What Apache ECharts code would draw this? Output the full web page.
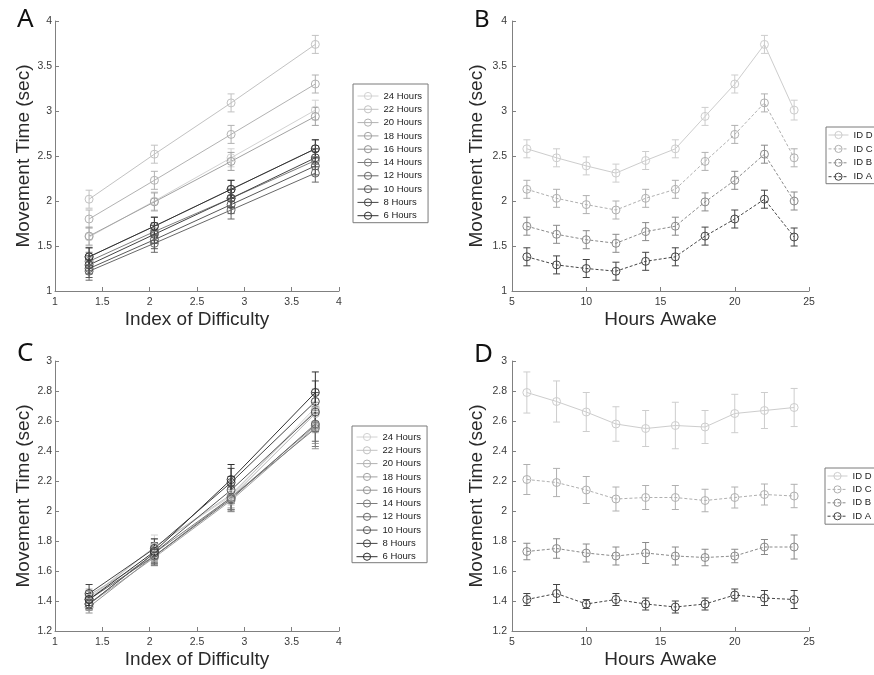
<!DOCTYPE html>
<html>
<head>
<meta charset="utf-8">
<script src="https://cdn.jsdelivr.net/npm/echarts@6/dist/echarts.min.js"></script>
<style>
html,body{margin:0;padding:0;background:#fff;}
#chart{width:874px;height:675px;}
</style>
</head>
<body>
<div id="chart"></div>
<script>
// ---------- DATA ----------
const hours = [6, 8, 10, 12, 14, 16, 18, 20, 22, 24];
const idLevels = [1.36, 2.05, 2.86, 3.75];
const idNames = ['ID A', 'ID B', 'ID C', 'ID D'];
const hourNames = ['24 Hours', '22 Hours', '20 Hours', '18 Hours', '16 Hours', '14 Hours', '12 Hours', '10 Hours', '8 Hours', '6 Hours'];

// Top row (panels A, B): movement time per hour awake for each ID
const topIdA = [1.38, 1.29, 1.25, 1.22, 1.33, 1.38, 1.61, 1.80, 2.02, 1.60];
const topIdB = [1.72, 1.63, 1.57, 1.53, 1.66, 1.72, 1.99, 2.23, 2.52, 2.00];
const topIdC = [2.13, 2.03, 1.96, 1.90, 2.03, 2.13, 2.44, 2.74, 3.09, 2.48];
const topIdD = [2.58, 2.48, 2.39, 2.31, 2.45, 2.58, 2.94, 3.30, 3.74, 3.01];
const topErrA = [0.10, 0.10, 0.10, 0.10, 0.10, 0.10, 0.10, 0.10, 0.10, 0.10];
const topErrB = [0.10, 0.10, 0.10, 0.10, 0.10, 0.10, 0.10, 0.10, 0.10, 0.10];
const topErrC = [0.10, 0.10, 0.10, 0.10, 0.10, 0.10, 0.10, 0.10, 0.10, 0.10];
const topErrD = [0.10, 0.10, 0.10, 0.10, 0.10, 0.10, 0.10, 0.10, 0.10, 0.11];

// Bottom row (panels C, D)
const botIdA = [1.41, 1.45, 1.38, 1.41, 1.38, 1.36, 1.38, 1.44, 1.42, 1.41];
const botIdB = [1.73, 1.75, 1.72, 1.70, 1.72, 1.70, 1.69, 1.70, 1.76, 1.76];
const botIdC = [2.21, 2.19, 2.14, 2.08, 2.09, 2.09, 2.07, 2.09, 2.11, 2.10];
const botIdD = [2.79, 2.73, 2.66, 2.58, 2.55, 2.57, 2.56, 2.65, 2.67, 2.69];
const botErrA = [0.04, 0.06, 0.03, 0.04, 0.04, 0.04, 0.04, 0.04, 0.05, 0.06];
const botErrB = [0.055, 0.065, 0.06, 0.06, 0.07, 0.06, 0.055, 0.045, 0.05, 0.08];
const botErrC = [0.10, 0.094, 0.09, 0.08, 0.08, 0.08, 0.075, 0.07, 0.07, 0.078];
const botErrD = [0.137, 0.137, 0.13, 0.115, 0.12, 0.155, 0.11, 0.128, 0.12, 0.127];

// ---------- STYLES ----------
const hourColors = {24:'#d2d2d2',22:'#c2c2c2',20:'#b2b2b2',18:'#a2a2a2',16:'#929292',14:'#7c7c7c',12:'#686868',10:'#585858',8:'#444444',6:'#303030'};
const idColors = {'ID D':'#cdcdcd','ID C':'#b0b0b0','ID B':'#8a8a8a','ID A':'#444444'};
const idDash = {'ID D':'solid','ID C':[3,2],'ID B':[3,2],'ID A':[3,2]};

const FONT = '"Liberation Sans", Arial, sans-serif';

function errRenderer(color){
  return function(params, api){
    const x = api.value(0), lo = api.value(1), hi = api.value(2);
    const p1 = api.coord([x, lo]), p2 = api.coord([x, hi]);
    const w = 3.5;
    const st = {stroke: color, lineWidth: 1};
    return {type:'group', children:[
      {type:'line', shape:{x1:p1[0],y1:p1[1],x2:p2[0],y2:p2[1]}, style:st},
      {type:'line', shape:{x1:p1[0]-w,y1:p1[1],x2:p1[0]+w,y2:p1[1]}, style:st},
      {type:'line', shape:{x1:p2[0]-w,y1:p2[1],x2:p2[0]+w,y2:p2[1]}, style:st}
    ]};
  };
}

function lineSeries(name, data, color, dash, gi){
  return {
    type:'line', name:name, data:data, xAxisIndex:gi, yAxisIndex:gi,
    symbol:'circle', symbolSize:8, showSymbol:true,
    itemStyle:{color:'rgba(255,255,255,0)', borderColor:color, borderWidth:1},
    lineStyle:{color:color, width:1, type:dash},
    emphasis:{disabled:true}, animation:false, z:3
  };
}
function errSeries(data, color, gi){
  return {
    type:'custom', name:'_err', data:data, xAxisIndex:gi, yAxisIndex:gi,
    encode:{x:0, y:[1,2]}, renderItem:errRenderer(color), animation:false, silent:true, z:2
  };
}

const series = [];
const topRows = [topIdA, topIdB, topIdC, topIdD];
const topErrs = [topErrA, topErrB, topErrC, topErrD];
const botRows = [botIdA, botIdB, botIdC, botIdD];
const botErrs = [botErrA, botErrB, botErrC, botErrD];

// Panels A and C: series per hour, x = index of difficulty
function addHourPanel(rows, errs, gi){
  for (let h = hours.length - 1; h >= 0; h--) {
    const hr = hours[h];
    const c = hourColors[hr];
    const pts = idLevels.map((x, j) => [x, rows[j][h]]);
    const eb = idLevels.map((x, j) => [x, rows[j][h] - errs[j][h], rows[j][h] + errs[j][h]]);
    series.push(errSeries(eb, c, gi));
    series.push(lineSeries(hr + ' Hours', pts, c, 'solid', gi));
  }
}
// Panels B and D: series per ID, x = hours awake
function addIdPanel(rows, errs, gi){
  for (let j = 3; j >= 0; j--) {
    const nm = idNames[j];
    const c = idColors[nm];
    const pts = hours.map((x, i) => [x, rows[j][i]]);
    const eb = hours.map((x, i) => [x, rows[j][i] - errs[j][i], rows[j][i] + errs[j][i]]);
    series.push(errSeries(eb, c, gi));
    series.push(lineSeries(nm, pts, c, idDash[nm], gi));
  }
}
addHourPanel(topRows, topErrs, 0);
addIdPanel(topRows, topErrs, 1);
addHourPanel(botRows, botErrs, 2);
addIdPanel(botRows, botErrs, 3);

const axisCommon = {
  axisLine:{show:true, onZero:false, lineStyle:{color:'#808080', width:1}},
  axisTick:{show:true, inside:true, length:4, lineStyle:{color:'#808080'}},
  splitLine:{show:false},
  axisLabel:{color:'#3a3a3a', fontSize:10.5, fontFamily:FONT},
  nameLocation:'middle',
  nameTextStyle:{color:'#2a2a2a', fontSize:19, fontFamily:FONT}
};
function xAx(gi, min, max, iv, name){
  return Object.assign({}, axisCommon, {type:'value', gridIndex:gi, min:min, max:max, interval:iv, name:name, nameGap:19,
    axisLabel:Object.assign({}, axisCommon.axisLabel, {margin:6})});
}
function yAx(gi, min, max, iv, gap, margin){
  return Object.assign({}, axisCommon, {type:'value', gridIndex:gi, min:min, max:max, interval:iv, name:'Movement Time (sec)', nameGap:gap,
    axisLabel:Object.assign({}, axisCommon.axisLabel, {margin:margin})});
}

const legendCommon = {
  orient:'vertical', backgroundColor:'#fff', borderColor:'#7a7a7a', borderWidth:1, borderRadius:0,
  itemHeight:9, textStyle:{fontSize:9.5, lineHeight:10, color:'#222', fontFamily:FONT},
  lineStyle:{width:1}, itemStyle:{borderWidth:1},
  selectedMode:false
};

const option = {
  backgroundColor:'#fff',
  animation:false,
  grid:[
    {left:55, top:21, width:284, height:270},
    {left:512, top:21, width:297, height:270},
    {left:55, top:361, width:284, height:270},
    {left:512, top:361, width:297, height:270}
  ],
  xAxis:[
    xAx(0, 1, 4, 0.5, 'Index of Difficulty'),
    xAx(1, 5, 25, 5, 'Hours Awake'),
    xAx(2, 1, 4, 0.5, 'Index of Difficulty'),
    xAx(3, 5, 25, 5, 'Hours Awake')
  ],
  yAxis:[
    yAx(0, 1, 4, 0.5, 21, 3),
    yAx(1, 1, 4, 0.5, 26, 5),
    yAx(2, 1.2, 3, 0.2, 21, 3),
    yAx(3, 1.2, 3, 0.2, 26, 5)
  ],
  legend:[
    Object.assign({}, legendCommon, {data:hourNames, left:353, top:84, padding:[7,6,2,4], itemWidth:21, itemGap:3.3}),
    Object.assign({}, legendCommon, {data:['ID D','ID C','ID B','ID A'], left:826, top:127, padding:[3,6,2,2], itemWidth:20, itemGap:3.9}),
    Object.assign({}, legendCommon, {data:hourNames, left:352, top:426, padding:[6,6,1,4], itemWidth:21, itemGap:3.3}),
    Object.assign({}, legendCommon, {data:['ID D','ID C','ID B','ID A'], left:825, top:468, padding:[3,6,3,2], itemWidth:20, itemGap:3.4})
  ],
  graphic:[
    {type:'text', left:17, top:7, style:{text:'A', fontSize:26, fontFamily:'"Noto Sans", sans-serif', fill:'#111'}},
    {type:'text', left:474, top:8, style:{text:'B', fontSize:24, fontFamily:'"Noto Sans", sans-serif', fill:'#111'}},
    {type:'text', left:17, top:341, style:{text:'C', fontSize:26, fontFamily:'"Noto Sans", sans-serif', fill:'#111'}},
    {type:'text', left:474, top:342, style:{text:'D', fontSize:26, fontFamily:'"Noto Sans", sans-serif', fill:'#111'}}
  ],
  series:series
};

const chart = echarts.init(document.getElementById('chart'), null, {renderer:'canvas'});
chart.setOption(option);
</script>
</body>
</html>
